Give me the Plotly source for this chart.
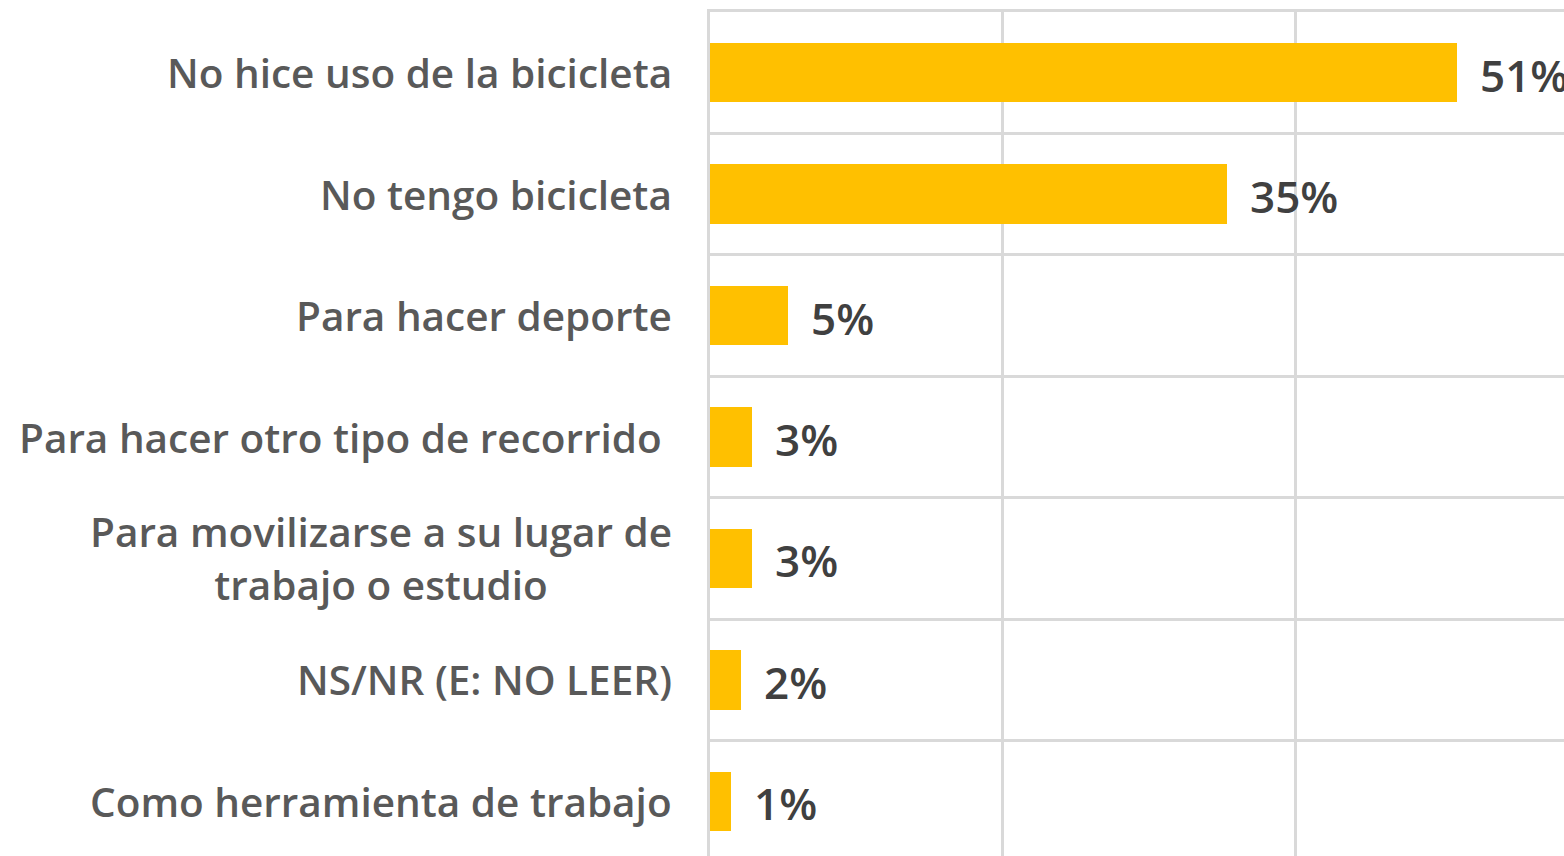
import plotly.graph_objects as go

categories = [
    "No hice uso de la bicicleta",
    "No tengo bicicleta",
    "Para hacer deporte",
    "Para hacer otro tipo de recorrido ",
    "Para movilizarse a su lugar de<br>trabajo o estudio",
    "NS/NR (E: NO LEER)",
    "Como herramienta de trabajo",
]
values = [51.0, 35.3, 5.3, 2.9, 2.9, 2.1, 1.4]
value_labels = ["51%", "35%", "5%", "3%", "3%", "2%", "1%"]
x_grid = [0, 20, 40, 60]

positions = list(range(len(categories)))
boundaries = [p + 0.5 for p in positions]

BAR = "#FFC000"
GRID = "#D9D9D9"
FONT = "Open Sans"

fig = go.Figure(
    go.Bar(
        x=values,
        y=positions,
        orientation="h",
        marker=dict(color=BAR, line=dict(width=0)),
        width=0.49,
        hoverinfo="skip",
    )
)

annotations = []
for p, c in zip(positions, categories):
    annotations.append(dict(
        x=0, xref="paper", y=p, yref="y", text=c, showarrow=False,
        xanchor="right", yanchor="middle", align="center", xshift=-36,
        font=dict(family=FONT, size=40.5, color="#595959", weight=600),
    ))
for p, v, t in zip(positions, values, value_labels):
    annotations.append(dict(
        x=v, xref="x", y=p, yref="y", text=t, showarrow=False,
        xanchor="left", yanchor="middle", xshift=21, yshift=-2,
        font=dict(family=FONT, size=44, color="#404040", weight=600),
    ))

fig.update_layout(
    width=1564, height=856,
    margin=dict(l=710, r=0, t=12, b=0),
    paper_bgcolor="white", plot_bgcolor="white",
    showlegend=False,
    bargap=0,
    annotations=annotations,
    xaxis=dict(
        range=[0, 58.3], tickvals=x_grid, showticklabels=False, ticks="",
        showgrid=True, gridcolor=GRID, gridwidth=3, zeroline=False,
        side="top", showline=True, linecolor=GRID, linewidth=3, fixedrange=True,
    ),
    yaxis=dict(
        range=[6.45, -0.5], tickvals=boundaries, showticklabels=False, ticks="",
        showgrid=True, gridcolor=GRID, gridwidth=3, zeroline=False,
        showline=True, linecolor=GRID, linewidth=3, fixedrange=True,
    ),
)

fig.write_html(
    "out.html",
    config={"displayModeBar": False},
    post_script="document.body.style.margin='0';document.body.style.overflow='hidden';",
)
